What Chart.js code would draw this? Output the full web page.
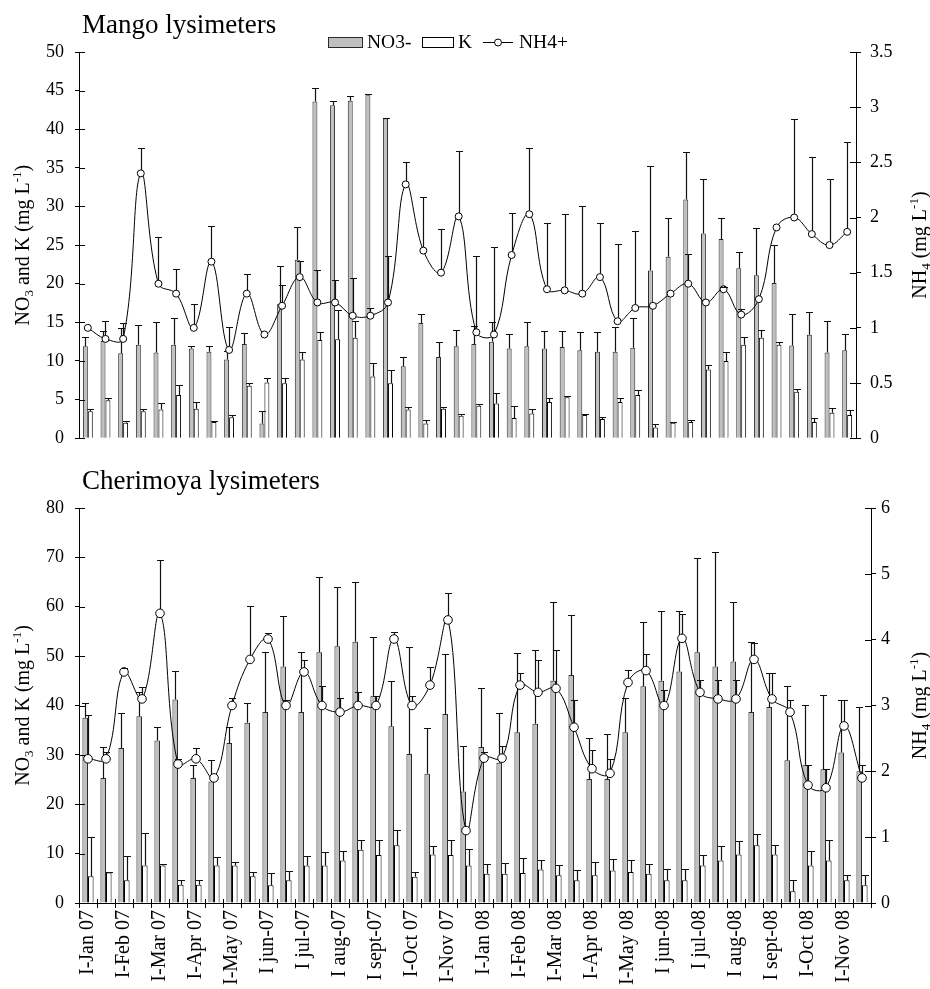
<!DOCTYPE html>
<html>
<head>
<meta charset="utf-8">
<script src="https://cdn.jsdelivr.net/npm/chart.js@4.4.1/dist/chart.umd.min.js"></script>
<style>
  html, body { margin: 0; padding: 0; background: #fff; }
  #wrap { position: relative; width: 930px; height: 989px; }
  canvas { position: absolute; left: 0; }
  #mango { top: 0; }
  #cherimoya { top: 460px; }
</style>
</head>
<body>
<div id="wrap">
  <canvas id="mango" width="930" height="460"></canvas>
  <canvas id="cherimoya" width="930" height="529"></canvas>
</div>
<script>
// Two samplings per month; the first sampling of each month carries the label.
const categories = [
  'I-Jan 07', '', 'I-Feb 07', '', 'I-Mar 07', '', 'I-Apr 07', '', 'I-May 07', '',
  'I jun-07', '', 'I jul-07', '', 'I aug-07', '', 'I sept-07', '', 'I-Oct 07', '',
  'I-Nov 07', '', 'I-Jan 08', '', 'I-Feb 08', '', 'I-Mar 08', '', 'I-Apr 08', '',
  'I-May 08', '', 'I jun-08', '', 'I jul-08', '', 'I aug-08', '', 'I sept-08', '',
  'I-Oct 08', '', 'I-Nov 08', ''
];

// Mango lysimeters (mg L-1); *Err = upper error bar
const mangoNO3 = [11.9, 12.6, 11.0, 12.1, 11.1, 12.1, 11.6, 11.2, 10.2, 12.2,
  1.9, 17.4, 23.1, 43.6, 43.1, 43.7, 44.4, 41.4, 9.3, 14.9,
  10.5, 11.9, 12.2, 12.5, 11.6, 11.9, 11.6, 11.8, 11.4, 11.2,
  11.2, 11.7, 21.7, 23.5, 30.9, 26.5, 25.8, 22.0, 21.1, 20.1,
  12.0, 13.4, 11.1, 11.4];
const mangoNO3Err = [1.2, 1.3, 3.3, 2.6, 3.9, 3.5, 0.4, 0.8, 1.1, 1.4,
  1.6, 4.9, 4.3, 1.7, 0.5, 0.6, 0.1, 0.1, 1.2, 1.2,
  2.0, 2.1, 2.3, 2.5, 1.9, 3.1, 2.3, 2.1, 2.4, 2.6,
  3.2, 3.9, 13.6, 5.0, 6.1, 7.0, 2.7, 2.1, 6.1, 4.9,
  4.1, 3.0, 4.1, 2.1];
const mangoK = [3.5, 4.9, 2.0, 3.5, 3.7, 5.6, 3.8, 2.1, 2.7, 6.8,
  7.2, 7.1, 10.2, 12.7, 12.8, 13.0, 8.0, 7.1, 3.7, 1.9,
  3.8, 2.9, 4.2, 4.5, 2.6, 3.2, 4.7, 5.3, 3.0, 2.5,
  4.7, 5.6, 1.4, 2.0, 2.1, 8.9, 10.0, 12.1, 13.0, 12.1,
  6.0, 2.1, 3.3, 3.0];
const mangoKErr = [0.3, 0.3, 0.2, 0.3, 0.8, 1.3, 0.9, 0.1, 0.3, 0.4,
  0.6, 0.7, 1.0, 1.1, 3.8, 2.2, 1.7, 1.7, 0.4, 0.4,
  0.2, 0.2, 0.2, 1.3, 1.6, 0.6, 0.5, 0.2, 0.1, 0.3,
  0.5, 0.6, 0.5, 0.1, 0.3, 0.6, 1.2, 1.0, 1.0, 0.3,
  0.4, 0.5, 0.6, 0.6];
const mangoNH4 = [1.00, 0.90, 0.90, 2.40, 1.40, 1.31, 1.00, 1.60, 0.80, 1.31,
  0.94, 1.20, 1.46, 1.23, 1.23, 1.11, 1.11, 1.23, 2.30, 1.70,
  1.50, 2.01, 0.96, 0.94, 1.66, 2.03, 1.35, 1.34, 1.31, 1.46,
  1.06, 1.18, 1.20, 1.31, 1.40, 1.23, 1.35, 1.12, 1.26, 1.91,
  2.00, 1.85, 1.75, 1.87];
const mangoNH4Err = [0, 0.16, 0.14, 0.23, 0.42, 0.22, 0.22, 0.32, 0.21, 0.18,
  0, 0.19, 0.15, 0.29, 0.20, 0.34, 0.07, 0.42, 0.20, 0.49,
  0.40, 0.59, 0.69, 0.79, 0.38, 0.60, 0.60, 0.69, 0.79, 0.49,
  0.70, 0.70, 0, 0, 0.27, 0, 0.02, 0.05, 0, 0,
  0.89, 0.70, 0.60, 0.81];

// Cherimoya lysimeters (mg L-1)
const cherNO3 = [37.5, 25.3, 31.4, 37.8, 32.9, 41.2, 25.3, 24.6, 32.4, 36.5,
  38.7, 47.9, 38.7, 50.8, 52.0, 52.9, 42.0, 35.8, 30.2, 26.2,
  38.3, 22.6, 31.6, 28.4, 34.6, 36.3, 45.0, 46.2, 25.1, 25.1,
  34.6, 43.9, 45.0, 46.9, 50.8, 47.9, 48.9, 38.7, 39.7, 28.9,
  28.0, 27.1, 30.5, 26.7];
const cherNO3Err = [3.0, 6.2, 7.1, 4.9, 2.7, 5.7, 2.7, 4.4, 3.2, 4.0,
  12.2, 10.2, 12.1, 15.2, 12.0, 12.1, 11.9, 9.1, 21.7, 9.2,
  12.1, 9.2, 11.9, 10.0, 16.0, 15.0, 16.0, 12.1, 8.3, 9.2,
  6.9, 13.1, 14.1, 12.2, 19.1, 23.1, 12.1, 14.1, 6.9, 15.0,
  12.2, 15.1, 10.7, 13.0];
const cherK = [5.4, 6.2, 4.6, 7.6, 7.6, 3.7, 3.7, 7.6, 7.6, 5.4,
  3.6, 4.6, 7.6, 7.6, 8.6, 10.8, 9.7, 11.7, 5.3, 9.8,
  9.7, 7.6, 5.9, 5.9, 6.1, 6.8, 5.6, 4.6, 5.6, 6.6,
  6.3, 5.9, 4.6, 4.6, 7.6, 8.6, 9.8, 11.7, 9.8, 2.4,
  7.6, 8.6, 4.6, 3.6];
const cherKErr = [7.9, 0.1, 4.9, 6.6, 0.2, 0.9, 0.9, 1.7, 0.8, 0.9,
  2.5, 1.9, 1.9, 2.7, 2.0, 2.0, 3.1, 3.0, 0.9, 1.8,
  3.1, 3.3, 2.0, 2.2, 3.0, 2.0, 2.0, 2.0, 2.8, 2.4,
  2.5, 2.0, 2.3, 2.3, 2.2, 2.9, 2.7, 2.3, 1.9, 2.2,
  3.0, 4.2, 1.0, 2.0];
const cherNH4 = [2.19, 2.19, 3.51, 3.10, 4.40, 2.11, 2.19, 1.90, 3.00, 3.70,
  4.01, 3.00, 3.51, 3.00, 2.90, 3.00, 3.00, 4.01, 3.00, 3.31,
  4.30, 1.10, 2.20, 2.20, 3.31, 3.20, 3.26, 2.67, 2.04, 1.97,
  3.35, 3.53, 3.00, 4.02, 3.20, 3.10, 3.10, 3.70, 3.10, 2.90,
  1.79, 1.75, 2.69, 1.90];
const cherNH4Err = [0.66, 0.10, 0.06, 0.18, 0.81, 0.07, 0.17, 0, 0.11, 0.81,
  0.09, 0.09, 0.18, 0.29, 0.22, 0.20, 0.14, 0.11, 0.15, 0.28,
  0.41, 0, 0.09, 0.19, 0.18, 0.49, 0.59, 0.41, 0.29, 0.22,
  0.19, 0.25, 0.24, 0.37, 0.19, 0.29, 0.29, 0.25, 0.40, 0.19,
  0.31, 0.28, 0.39, 0.19];

const SERIF = '"Liberation Serif", "Times New Roman", serif';
Chart.defaults.font.family = SERIF;
Chart.defaults.color = '#000';

const GRAY = '#c0c0c0';
const GRAY_EDGE = '#2a2a2a';

// Rotated axis title with subscript / superscript pieces
function drawRich(ctx, parts, cx, cy, size) {
  ctx.save();
  ctx.translate(cx, cy);
  ctx.rotate(-Math.PI / 2);
  ctx.fillStyle = '#000';
  ctx.textBaseline = 'alphabetic';
  const small = Math.round(size * 0.65);
  const fontOf = s => (s ? small : size) + 'px ' + SERIF;
  const widths = parts.map(p => { ctx.font = fontOf(p[1]); return ctx.measureText(p[0]).width; });
  let x = -widths.reduce((a, b) => a + b, 0) / 2;
  parts.forEach((p, i) => {
    ctx.font = fontOf(p[1]);
    const dy = p[1] === 'sub' ? size * 0.2 : (p[1] === 'sup' ? -size * 0.4 : 0);
    ctx.fillText(p[0], x, dy);
    x += widths[i];
  });
  ctx.restore();
}

// Upper error bars, drawn right after each dataset
const errorBars = {
  id: 'errorBars',
  afterDatasetDraw(chart, args) {
    const ds = chart.data.datasets[args.index];
    if (!ds.errors) return;
    const meta = args.meta;
    const yScale = chart.scales[meta.yAxisID];
    const ctx = chart.ctx;
    const lift = ds.type === 'line' ? ds.pointRadius : 0;
    ctx.save();
    ctx.strokeStyle = '#111';
    ctx.lineWidth = 1.2;
    meta.data.forEach((el, i) => {
      const e = ds.errors[i];
      if (!e) return;
      const x = Math.round(el.x) + 0.5;
      const top = Math.round(yScale.getPixelForValue(ds.data[i] + e)) + 0.5;
      ctx.beginPath();
      ctx.moveTo(x, el.y - lift);
      ctx.lineTo(x, top);
      ctx.moveTo(x - 3.5, top);
      ctx.lineTo(x + 3.5, top);
      ctx.stroke();
    });
    ctx.restore();
  }
};

// Tick marks crossing into the plot area
const innerTicks = {
  id: 'innerTicks',
  afterDraw(chart) {
    const ctx = chart.ctx;
    ctx.save();
    ctx.strokeStyle = '#000';
    ctx.lineWidth = 1;
    ['y', 'y1'].forEach(id => {
      const s = chart.scales[id];
      const left = s.position === 'left';
      const ax = left ? s.right : s.left;
      s.ticks.forEach(t => {
        const y = Math.round(s.getPixelForValue(t.value)) + 0.5;
        ctx.beginPath();
        ctx.moveTo(ax, y);
        ctx.lineTo(ax + (left ? 6 : -6), y);
        ctx.stroke();
      });
    });
    const xs = chart.scales.x;
    if (xs.options.display) {
      const n = chart.data.labels.length;
      const half = (xs.getPixelForValue(1) - xs.getPixelForValue(0)) / 2;
      for (let i = 0; i <= n; i++) {
        const px = Math.round((i < n ? xs.getPixelForValue(i) - half : xs.getPixelForValue(n - 1) + half)) + 0.5;
        ctx.beginPath();
        ctx.moveTo(px, xs.top);
        ctx.lineTo(px, xs.top - 4);
        ctx.stroke();
      }
    }
    ctx.restore();
  }
};

function annotations(title, titleY, rightTitleParts, withLegend) {
  return {
    id: 'annotations',
    afterDraw(chart) {
      const ctx = chart.ctx;
      const area = chart.chartArea;
      const cy = (area.top + area.bottom) / 2;
      ctx.save();
      ctx.fillStyle = '#000';
      ctx.textBaseline = 'alphabetic';
      ctx.textAlign = 'left';
      ctx.font = '27px ' + SERIF;
      ctx.fillText(title, 82, titleY);

      drawRich(ctx, [['NO'], ['3', 'sub'], [' and K (mg L'], ['-1', 'sup'], [')']], 29, cy, 20);
      drawRich(ctx, rightTitleParts, 926, cy, 20);

      if (withLegend) {
        const ds = chart.data.datasets;
        ctx.lineWidth = 1;
        ctx.font = '19.5px ' + SERIF;
        ctx.fillStyle = ds[0].backgroundColor;
        ctx.fillRect(328, 37, 34, 10);
        ctx.strokeStyle = ds[0].borderColor;
        ctx.strokeRect(328.5, 37.5, 34, 10);
        ctx.fillStyle = '#000';
        ctx.fillText(ds[0].label, 367, 48);

        ctx.fillStyle = '#fff';
        ctx.fillRect(422, 37, 31, 10);
        ctx.strokeStyle = '#000';
        ctx.strokeRect(422.5, 37.5, 31, 10);
        ctx.fillStyle = '#000';
        ctx.fillText(ds[1].label, 458, 48);

        ctx.beginPath();
        ctx.moveTo(483, 42.5);
        ctx.lineTo(513, 42.5);
        ctx.stroke();
        ctx.beginPath();
        ctx.arc(498, 42.5, 3.5, 0, Math.PI * 2);
        ctx.fillStyle = '#fff';
        ctx.fill();
        ctx.stroke();
        ctx.fillStyle = '#000';
        ctx.fillText(ds[2].label, 519, 48);
      }
      ctx.restore();
    }
  };
}

function yAxis(max, step, width, pos, padding) {
  return {
    position: pos,
    min: 0,
    max: max,
    ticks: {
      stepSize: step, font: { size: 18 }, color: '#000', padding: padding,
      callback: v => String(Math.round(v * 10) / 10)
    },
    grid: { display: true, drawOnChartArea: false, drawTicks: true, tickLength: pos === 'left' ? 4 : 5, color: '#000', lineWidth: 1 },
    border: { display: true, color: '#000', width: 1 },
    afterFit(s) { s.width = width; }
  };
}

function datasets(no3, no3Err, k, kErr, nh4, nh4Err, catPct, radius) {
  return [
    { label: 'NO3-', data: no3, errors: no3Err, backgroundColor: GRAY, borderColor: GRAY_EDGE,
      borderWidth: 1, yAxisID: 'y', order: 2, categoryPercentage: catPct, barPercentage: 1 },
    { label: 'K', data: k, errors: kErr, backgroundColor: '#ffffff', borderColor: '#000',
      borderWidth: 1, yAxisID: 'y', order: 2, categoryPercentage: catPct, barPercentage: 1 },
    { type: 'line', label: 'NH4+', data: nh4, errors: nh4Err, yAxisID: 'y1', order: 1,
      borderColor: '#000', borderWidth: 1, tension: 0.4, fill: false,
      pointRadius: radius, pointBackgroundColor: '#fff', pointBorderColor: '#000', pointBorderWidth: 1 }
  ];
}

new Chart(document.getElementById('mango'), {
  type: 'bar',
  data: {
    labels: categories,
    datasets: datasets(mangoNO3, mangoNO3Err, mangoK, mangoKErr, mangoNH4, mangoNH4Err, 0.56, 3.5)
  },
  options: {
    responsive: false,
    animation: false,
    devicePixelRatio: 1,
    layout: { padding: { top: 52, bottom: 17, left: 0, right: 0 } },
    plugins: { legend: { display: false }, tooltip: { enabled: false } },
    scales: {
      x: { display: false, offset: true },
      y: yAxis(50, 5, 79, 'left', 11),
      y1: yAxis(3.5, 0.5, 74, 'right', 9)
    }
  },
  plugins: [errorBars, innerTicks,
    annotations('Mango lysimeters', 33, [['NH'], ['4', 'sub'], [' (mg L'], ['-1', 'sup'], [')']], true)]
});

new Chart(document.getElementById('cherimoya'), {
  type: 'bar',
  data: {
    labels: categories,
    datasets: datasets(cherNO3, cherNO3Err, cherK, cherKErr, cherNH4, cherNH4Err, 0.62, 4.3)
  },
  options: {
    responsive: false,
    animation: false,
    devicePixelRatio: 1,
    layout: { padding: { top: 48, bottom: 0, left: 0, right: 0 } },
    plugins: { legend: { display: false }, tooltip: { enabled: false } },
    scales: {
      x: {
        display: true,
        offset: true,
        ticks: { autoSkip: false, maxRotation: 90, minRotation: 90, font: { size: 20 }, color: '#000', padding: 2 },
        grid: { display: true, drawOnChartArea: false, drawTicks: true, tickLength: 5, color: '#000', offset: true },
        border: { display: true, color: '#000', width: 1 },
        afterFit(s) { s.height = 86; }
      },
      y: yAxis(80, 10, 79, 'left', 11),
      y1: yAxis(6, 1, 59, 'right', 5)
    }
  },
  plugins: [errorBars, innerTicks,
    annotations('Cherimoya lysimeters', 29, [['NH'], ['4', 'sub'], [' (mg L'], ['-1', 'sup'], [')']], false)]
});
</script>
</body>
</html>
